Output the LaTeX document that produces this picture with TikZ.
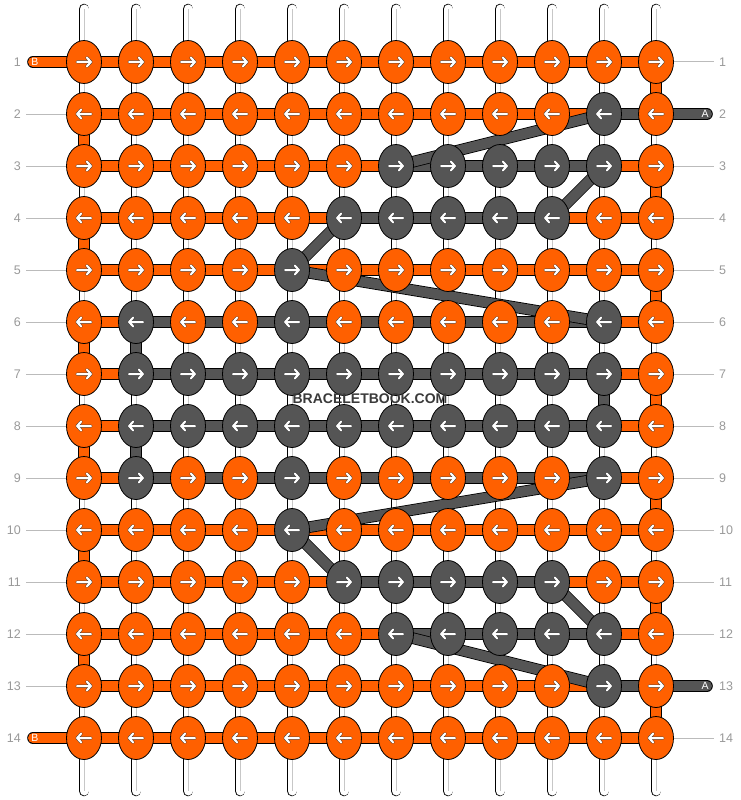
\documentclass[tikz,border=0pt]{standalone}
\usepackage{fontspec}
\setmainfont{Liberation Sans}
\usetikzlibrary{calc}
\usetikzlibrary{shapes.geometric}

\definecolor{knotorange}{HTML}{FF6000}
\definecolor{knotgray}{HTML}{555555}
\definecolor{labelgray}{HTML}{999999}
\definecolor{linegray}{HTML}{BBBBBB}
\definecolor{markgray}{HTML}{3A3A3A}

\begin{document}
\begin{tikzpicture}
	[
	x=1pt, y=-1pt,
	knot/.style = {ellipse, draw=black, line width=0.8pt, minimum width=35pt, minimum height=43pt, inner sep=0pt},
	strand/.style = {draw=black, line width=0.8pt, double=#1, double distance=10pt},
	warp/.style = {draw=black, line width=0.8pt, double=white, double distance=9pt, line cap=round},
	warp core/.style = {draw=black!22, line width=0.7pt},
	arrowline/.style = {draw=black!75, line width=0.5pt, double=white, double distance=2pt, line cap=round, line join=round},
	knotarrow/.pic = {\draw[arrowline, rotate=#1] (-7,0) -- (7,0) (2.8,-4.4) -- (7,0) -- (2.8,4.4);},
	rownum/.style = {text=labelgray, font=\fontsize{12.5}{15}\selectfont, inner sep=2.5pt},
	rowline/.style = {draw=linegray, line width=1pt},
	endtext/.style = {text=white, font=\fontsize{10.5}{12}\selectfont, inner sep=0pt},
	wmark/.style = {font=\bfseries\fontsize{14}{16}\selectfont, inner sep=0pt}
	]
	\useasboundingbox (0,0) rectangle (740,800);

	% grid points
	\foreach \row in {1,...,14} {
		\foreach \col in {1,...,12} {
			\coordinate (p-\row-\col) at ({84+52*(\col-1)},{62+52*(\row-1)});
		}
	}

	% knots and segments of the gray thread
	\foreach \row/\a/\b in {2/11/11, 3/7/11, 4/6/10, 5/5/5, 6/2/2, 6/5/5, 6/11/11, 7/2/11, 8/2/11, 9/2/2, 9/5/5, 9/11/11, 10/5/5, 11/6/10, 12/7/11, 13/11/11} {
		\foreach \col in {\a,...,\b} {\expandafter\gdef\csname gk-\row-\col\endcsname{}}
	}
	\foreach \row/\a/\b in {2/11/11, 3/7/10, 4/6/9, 6/2/10, 7/2/10, 8/2/10, 9/2/10, 11/6/9, 12/7/10, 13/11/11} {
		\foreach \col in {\a,...,\b} {\expandafter\gdef\csname gs-\row-\col\endcsname{}}
	}

	% vertical strings
	\foreach \col in {1,...,12} {
		\coordinate (top-\col) at ({84+52*(\col-1)},9);
		\coordinate (bot-\col) at ({84+52*(\col-1)},791);
		\draw[warp] (top-\col) -- (bot-\col);
		\draw[warp core] (top-\col) -- (bot-\col);
	}

	% rows
	\foreach \row in {1,...,14} {
		\foreach \col [evaluate=\col as \nxt using int(\col+1)] in {1,...,11} {
			\ifcsname gs-\row-\col\endcsname \def\sc{knotgray}\else \def\sc{knotorange}\fi
			\draw[strand=\sc] (p-\row-\col) -- (p-\row-\nxt);
		}
	}

	% turns at the edges
	\foreach \row/\col in {1/12, 3/12, 5/12, 7/12, 9/12, 11/12, 13/12, 2/1, 4/1, 6/1, 8/1, 10/1, 12/1} {
		\pgfmathtruncatemacro{\nr}{\row+1}
		\draw[strand=knotorange] (p-\row-\col) -- (p-\nr-\col);
	}
	\foreach \row/\col in {6/2, 8/2, 7/11} {
		\pgfmathtruncatemacro{\nr}{\row+1}
		\draw[strand=knotgray] (p-\row-\col) -- (p-\nr-\col);
	}

	% loose ends
	\coordinate (endB-1) at (33,62);
	\coordinate (endB-14) at (33,738);
	\coordinate (endA-2) at (707,114);
	\coordinate (endA-13) at (707,686);
	\draw[strand=knotorange, line cap=round] (endB-1) -- (p-1-1);
	\draw[strand=knotorange, line cap=round] (endB-14) -- (p-14-1);
	\draw[strand=knotgray, line cap=round] (p-2-12) -- (endA-2);
	\draw[strand=knotgray, line cap=round] (p-13-12) -- (endA-13);

	% diagonal jumps of the gray thread
	\foreach \a/\b in {2-11/3-7, 3-11/4-10, 4-6/5-5, 5-5/6-11, 9-11/10-5, 10-5/11-6, 11-10/12-11, 12-7/13-11} {
		\draw[strand=knotgray] (p-\a) -- (p-\b);
	}

	% knots
	\foreach \row in {1,...,14} {
		\foreach \col in {1,...,12} {
			\ifcsname gk-\row-\col\endcsname \def\kc{knotgray}\else \def\kc{knotorange}\fi
			\node[knot, fill=\kc] (k-\row-\col) at (p-\row-\col) {};
			\ifodd\row\relax
				\pic at (k-\row-\col) {knotarrow=0};
			\else
				\pic at (k-\row-\col) {knotarrow=180};
			\fi
		}
	}

	\node[endtext] (tB-1) at (35,62) {B};
	\node[endtext] (tB-14) at (35,738) {B};
	\node[endtext] (tA-2) at (705,114) {A};
	\node[endtext] (tA-13) at (705,686) {A};

	% row numbers
	\foreach \row in {1,...,14} {
		\node[rownum, anchor=east] (nl-\row) at (23.5,{62+52*(\row-1)}) {\row};
		\node[rownum, anchor=west] (nr-\row) at (716.5,{62+52*(\row-1)}) {\row};
	}
	\foreach \row in {2,...,13} {
		\draw[rowline, shorten <=2.5pt] (nl-\row.east) -- (k-\row-1.west);
	}
	\foreach \row in {1,3,4,5,6,7,8,9,10,11,12,14} {
		\draw[rowline, shorten >=3pt] (k-\row-12.east) -- (nr-\row.west);
	}

	% watermark
	\node[wmark, text=markgray] (wm) at (370,399) {BRACELETBOOK.COM};
\end{tikzpicture}
\end{document}
